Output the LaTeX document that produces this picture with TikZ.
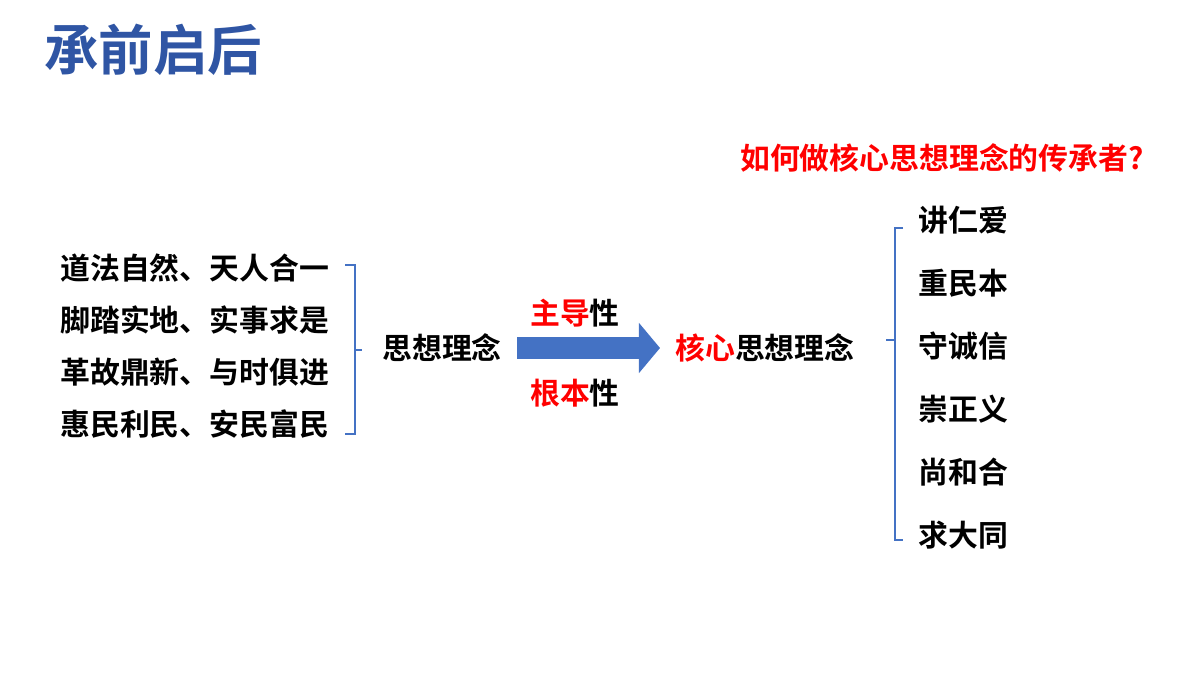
\documentclass[tikz,border=0pt]{standalone}
\usepackage{fontspec}
\setmainfont{Noto Sans CJK SC}[BoldFont={* Bold}]
\usetikzlibrary{positioning,arrows.meta}
\definecolor{titleblue}{RGB}{47,85,164}
\definecolor{brblue}{RGB}{68,114,196}
\tikzset{
	item/.style={font=\fontsize{17}{19}\selectfont\bfseries, inner sep=0pt},
	brace/.style={draw=brblue, line width=0.6pt},
}
\newcommand{\red}[1]{\textcolor{red}{#1}}
\begin{document}
\begin{tikzpicture}[x=0.02cm, y=-0.02cm]
	\useasboundingbox (0,0) rectangle (1200,675);
	\node[font=\fontsize{31}{34}\selectfont\bfseries, text=titleblue, anchor=west] (title) at (38,50) {承前启后};
	\node[font=\fontsize{17}{19}\selectfont\bfseries, text=red, anchor=east] (ask) at (1150,158) {如何做核心思想理念的传承者?};
%
	\node[item, anchor=west] (l1) at (60,268) {道法自然、天人合一};
	\node[item, anchor=west] (l2) at (60,320) {脚踏实地、实事求是};
	\node[item, anchor=west] (l3) at (60,372) {革故鼎新、与时俱进};
	\node[item, anchor=west] (l4) at (60,424) {惠民利民、安民富民};
	\draw[brace] (345,265) -- (355,265) -- (355,434) -- (345,434);
	\draw[brace] (355,350) -- (362,350);
%
	\node[item, anchor=west] (idea) at (382,348) {思想理念};
	\coordinate (as) at (517,348);
	\coordinate (ae) at (660,348);
	\draw[-{Triangle[length=12pt, width=28pt]}, line width=12pt, draw=brblue] (as) -- (ae);
	\node[item] (lead) at (575,313) {\red{主导}性};
	\node[item] (root) at (575,393) {\red{根本}性};
	\node[item, anchor=west] (core) at (675,348) {\red{核心}思想理念};
%
	\draw[brace] (903,228) -- (895,228) -- (895,540) -- (903,540);
	\draw[brace] (895,340) -- (886,340);
	\foreach \t [count=\i] in {讲仁爱,重民本,守诚信,崇正义,尚和合,求大同}
		\node[item, anchor=west] (r\i) at (918,157+63*\i) {\t};
\end{tikzpicture}
\end{document}
